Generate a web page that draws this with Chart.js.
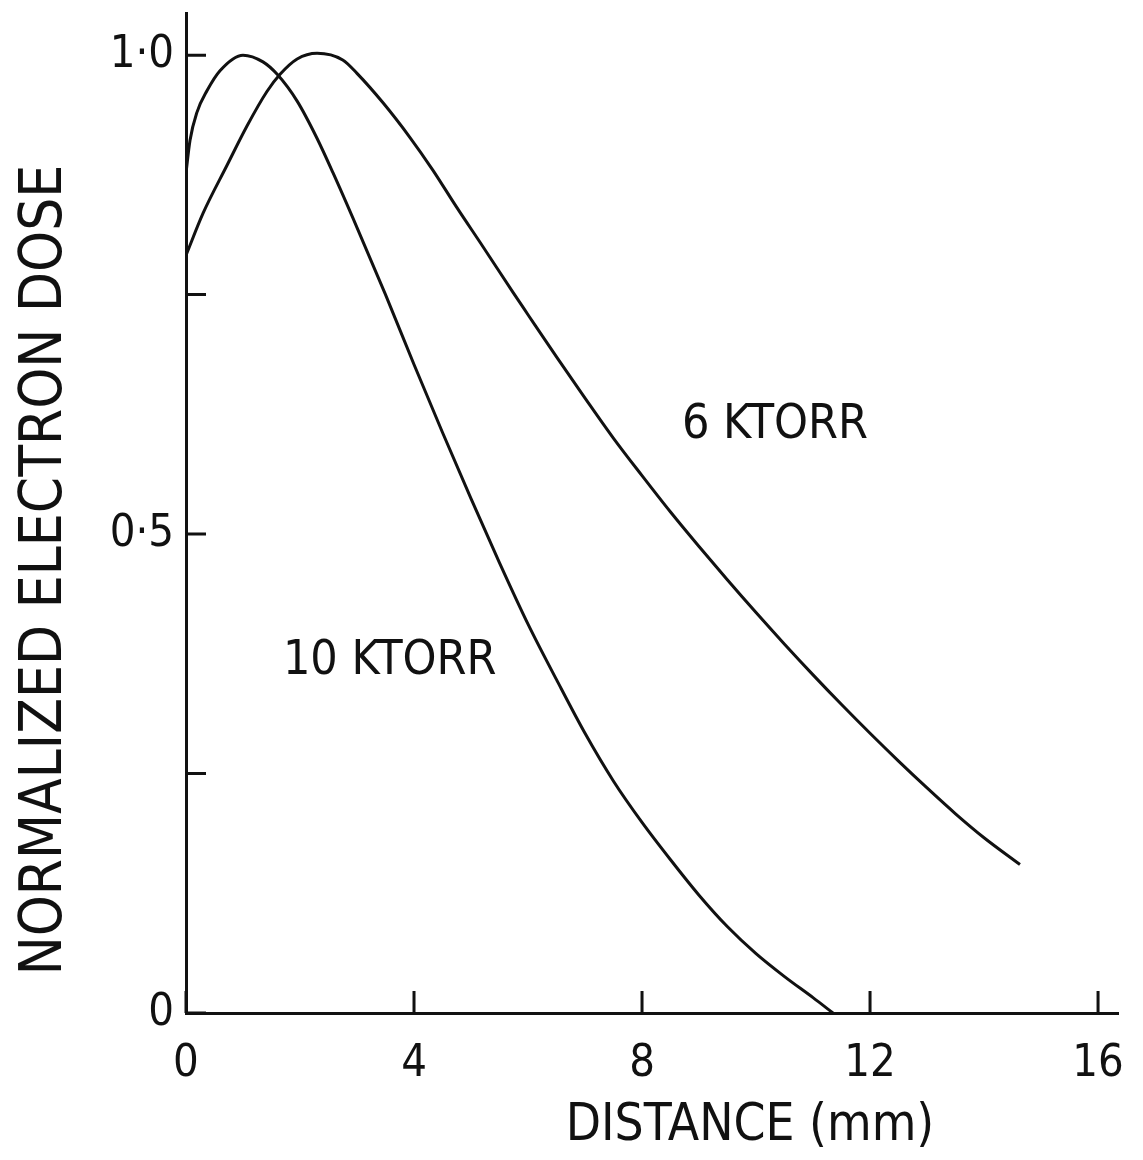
<!DOCTYPE html>
<html>
<head>
<meta charset="utf-8">
<script src="https://cdn.jsdelivr.net/npm/chart.js@4.4.1/dist/chart.umd.min.js"></script>
<style>
  html, body { margin: 0; padding: 0; background: #fff; }
  #plot { display: block; }
</style>
</head>
<body>
<canvas id="plot" width="1143" height="1160"></canvas>
<script>
// axis ticks
const xTickValues = [0, 4, 8, 12, 16];
const yTickValues = [0, 0.25, 0.5, 0.75, 1.0];
const yTickLabels = ['0', '', '0·5', '', '1·0'];

// 10 KTORR curve (distance mm / normalized dose)
const dist10 = [0, 0.07, 0.19, 0.37, 0.6, 1.0, 1.35, 1.6, 1.95, 2.3, 2.58, 3.0, 3.5, 4.0, 4.5, 5.0, 5.5, 6.0, 6.5, 7.0, 7.5, 8.0, 8.5, 9.0, 9.5, 10.0, 10.5, 11.0, 11.35];
const dose10 = [0.877, 0.911, 0.94, 0.963, 0.984, 1.0, 0.993, 0.98, 0.952, 0.913, 0.877, 0.82, 0.75, 0.677, 0.606, 0.537, 0.47, 0.406, 0.348, 0.292, 0.242, 0.199, 0.16, 0.123, 0.09, 0.062, 0.038, 0.016, 0];

// 6 KTORR curve
const dist6 = [0, 0.3, 0.72, 1.07, 1.42, 1.65, 1.95, 2.3, 2.75, 3.0, 3.46, 3.93, 4.33, 4.75, 5.21, 5.74, 6.0, 6.5, 7.0, 7.5, 8.0, 8.5, 9.0, 9.5, 10.0, 10.5, 11.0, 11.5, 12.0, 12.5, 13.0, 13.5, 14.0, 14.63];
const dose6 = [0.791, 0.835, 0.885, 0.926, 0.962, 0.98, 0.996, 1.002, 0.995, 0.981, 0.95, 0.914, 0.88, 0.841, 0.8, 0.752, 0.729, 0.685, 0.642, 0.6, 0.561, 0.523, 0.487, 0.452, 0.418, 0.385, 0.353, 0.322, 0.292, 0.263, 0.235, 0.208, 0.183, 0.155];

const seriesNames = ['10 KTORR', '6 KTORR'];
const xTitle = 'DISTANCE (mm)';
const yTitle = 'NORMALIZED ELECTRON DOSE';

const FONT = '"DejaVu Sans Condensed", "Liberation Sans Narrow", "Liberation Sans", sans-serif';
const INK = '#111';

function toPoints(xs, ys) {
    return xs.map((x, i) => ({ x: x, y: ys[i] }));
}

// inward ticks, curve labels and axis titles
const paperPlugin = {
    id: 'paper',
    afterDraw(chart) {
        const ctx = chart.ctx;
        const xs = chart.scales.x;
        const ys = chart.scales.y;
        const area = chart.chartArea;
        ctx.save();
        ctx.strokeStyle = INK;
        ctx.lineWidth = 3;
        ctx.beginPath();
        yTickValues.forEach(v => {
            const py = ys.getPixelForValue(v);
            ctx.moveTo(area.left, py);
            ctx.lineTo(area.left + 20, py);
        });
        xTickValues.forEach(v => {
            const px = xs.getPixelForValue(v);
            ctx.moveTo(px, area.bottom);
            ctx.lineTo(px, area.bottom - 22);
        });
        ctx.stroke();

        ctx.fillStyle = INK;
        ctx.font = '48px ' + FONT;
        ctx.textBaseline = 'middle';
        ctx.textAlign = 'left';
        ctx.fillText(seriesNames[0], xs.getPixelForValue(1.7), ys.getPixelForValue(0.367));
        ctx.fillText(seriesNames[1], xs.getPixelForValue(8.7), ys.getPixelForValue(0.613));

        ctx.textAlign = 'center';
        ctx.font = '51px ' + FONT;
        ctx.fillText(xTitle, 750, 1127);

        ctx.translate(46, 570);
        ctx.rotate(-Math.PI / 2);
        ctx.font = '58px ' + FONT;
        ctx.fillText(yTitle, 0, 0);
        ctx.restore();
    }
};

function noEdgePadding(s) {
    s.paddingTop = 0;
    s.paddingBottom = 0;
    s.paddingLeft = 0;
    s.paddingRight = 0;
}

const chart = new Chart(document.getElementById('plot'), {
    type: 'line',
    data: {
        datasets: [
            {
                label: seriesNames[0],
                data: toPoints(dist10, dose10),
                borderColor: INK,
                borderWidth: 3,
                pointRadius: 0,
                fill: false,
                cubicInterpolationMode: 'monotone'
            },
            {
                label: seriesNames[1],
                data: toPoints(dist6, dose6),
                borderColor: INK,
                borderWidth: 3,
                pointRadius: 0,
                fill: false,
                cubicInterpolationMode: 'monotone'
            }
        ]
    },
    options: {
        responsive: false,
        animation: false,
        layout: {
            padding: { top: 13, right: 25, left: 0, bottom: 0 }
        },
        plugins: {
            legend: { display: false },
            tooltip: { enabled: false }
        },
        scales: {
            x: {
                type: 'linear',
                min: 0,
                max: 16.35,
                afterBuildTicks: s => { s.ticks = xTickValues.map(v => ({ value: v })); },
                afterFit: s => { s.height = 147; noEdgePadding(s); },
                grid: { display: true, drawOnChartArea: false, drawTicks: false },
                border: { display: true, color: INK, width: 3 },
                ticks: {
                    color: INK,
                    padding: 24,
                    maxRotation: 0,
                    autoSkip: false,
                    font: { family: FONT, size: 45 }
                }
            },
            y: {
                type: 'linear',
                min: 0,
                max: 1.044,
                afterBuildTicks: s => { s.ticks = yTickValues.map(v => ({ value: v })); },
                afterFit: s => { s.width = 186; noEdgePadding(s); },
                grid: { display: true, drawOnChartArea: false, drawTicks: false },
                border: { display: true, color: INK, width: 3 },
                ticks: {
                    color: INK,
                    padding: 12,
                    autoSkip: false,
                    font: { family: FONT, size: 45 },
                    callback: (value, index) => yTickLabels[index]
                }
            }
        }
    },
    plugins: [paperPlugin]
});
</script>
</body>
</html>
